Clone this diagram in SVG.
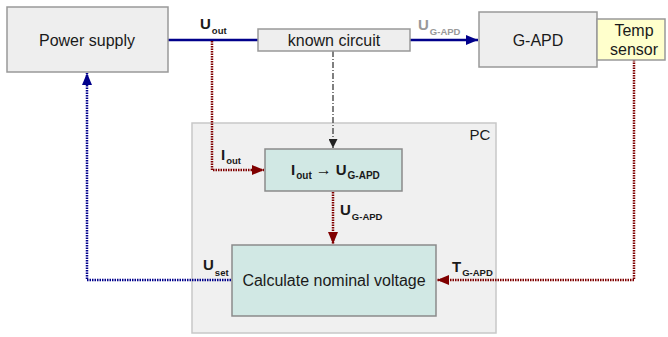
<svg xmlns="http://www.w3.org/2000/svg" width="668" height="337" viewBox="0 0 668 337">
<style>
text{font-family:"Liberation Sans",Arial,sans-serif;fill:#1a1a1a}
.box{fill:#eeeeee;stroke:#999999;stroke-width:1.5}
.calc{fill:#d1e8e4;stroke:#8a8a8a;stroke-width:1.5}
.lbl{font-size:16px;text-anchor:middle}
.sym{font-weight:bold;font-size:15px}
.sub{font-weight:bold;font-size:9.5px}
.red{fill:none;stroke:#800000;stroke-width:2.5;stroke-dasharray:1.5 1}
.blue{fill:none;stroke:#00008b;stroke-width:2.5;stroke-dasharray:1.5 1}
</style>
<defs>
<marker id="ar" viewBox="0 0 12 10" refX="12" refY="5" markerWidth="12" markerHeight="10" markerUnits="userSpaceOnUse" orient="auto"><path d="M0,0L12,5L0,10z" fill="#800000"/></marker>
<marker id="ab" viewBox="0 0 12 10" refX="12" refY="5" markerWidth="12" markerHeight="10" markerUnits="userSpaceOnUse" orient="auto"><path d="M0,0L12,5L0,10z" fill="#00008b"/></marker>
<marker id="ag" viewBox="0 0 10 10" refX="10" refY="5" markerWidth="10" markerHeight="9" markerUnits="userSpaceOnUse" orient="auto"><path d="M0,0L10,5L0,10z" fill="#222"/></marker>
</defs>
<g id="pc"><rect x="192" y="123" width="304" height="210" fill="#f0f0f0" stroke="#c8c8c8" stroke-width="1.5"/><text x="480" y="140" font-size="15" text-anchor="middle">PC</text></g>
<g id="connectors">
<line x1="168" y1="40" x2="258" y2="40" stroke="#00008b" stroke-width="2.5"/>
<line x1="410" y1="40" x2="478" y2="40" stroke="#00008b" stroke-width="2.5" marker-end="url(#ab)"/>
<path class="red" d="M212,41V170H264" marker-end="url(#ar)"/>
<path d="M333,51V148" fill="none" stroke="#555" stroke-width="1.5" stroke-dasharray="6 2 1 2" marker-end="url(#ag)"/>
<path class="red" d="M333,192V244" marker-end="url(#ar)"/>
<path class="red" d="M634,60V280H437" marker-end="url(#ar)"/>
<path class="blue" d="M231,280H87V73" marker-end="url(#ab)"/>
<text x="200" y="29" class="sym">U<tspan class="sub" dx="1" dy="5">out</tspan></text>
<text x="418" y="30" class="sym" style="fill:#999">U<tspan class="sub" dx="1" dy="5" style="fill:#999">G-APD</tspan></text>
<text x="221" y="160" class="sym">I<tspan class="sub" dx="1" dy="4">out</tspan></text>
<text x="340" y="215" class="sym">U<tspan class="sub" dx="1" dy="5">G-APD</tspan></text>
<text x="203" y="270" class="sym">U<tspan class="sub" dx="1" dy="6">set</tspan></text>
<text x="452" y="272" class="sym">T<tspan class="sub" dx="1" dy="4">G-APD</tspan></text>
</g>
<g id="power-supply"><rect class="box" x="7" y="7" width="161" height="65"/><text class="lbl" x="87" y="46">Power supply</text></g>
<g id="known-circuit"><rect class="box" x="258" y="29" width="152" height="22"/><text class="lbl" x="334" y="46">known circuit</text></g>
<g id="g-apd"><rect class="box" x="479" y="12" width="118" height="55"/><text class="lbl" x="538" y="46">G-APD</text></g>
<g id="temp-sensor"><rect x="597" y="19" width="68" height="41" fill="#ffffcc" stroke="#999" stroke-width="1.5"/><text class="lbl" x="634" y="36">Temp</text><text class="lbl" x="634" y="55">sensor</text></g>
<g id="conversion"><rect class="calc" x="265" y="149" width="137" height="42"/><text x="291" y="175" class="sym" style="font-size:15px">I<tspan class="sub" dx="1" dy="4" style="font-size:10px">out</tspan><tspan dx="4" dy="-4" font-weight="normal" style="font-size:16px">→</tspan><tspan dx="4">U</tspan><tspan class="sub" dx="1" dy="4" style="font-size:10px">G-APD</tspan></text></g>
<g id="calculate"><rect class="calc" x="232" y="245" width="204" height="71"/><text class="lbl" x="334" y="286">Calculate nominal voltage</text></g>
</svg>
